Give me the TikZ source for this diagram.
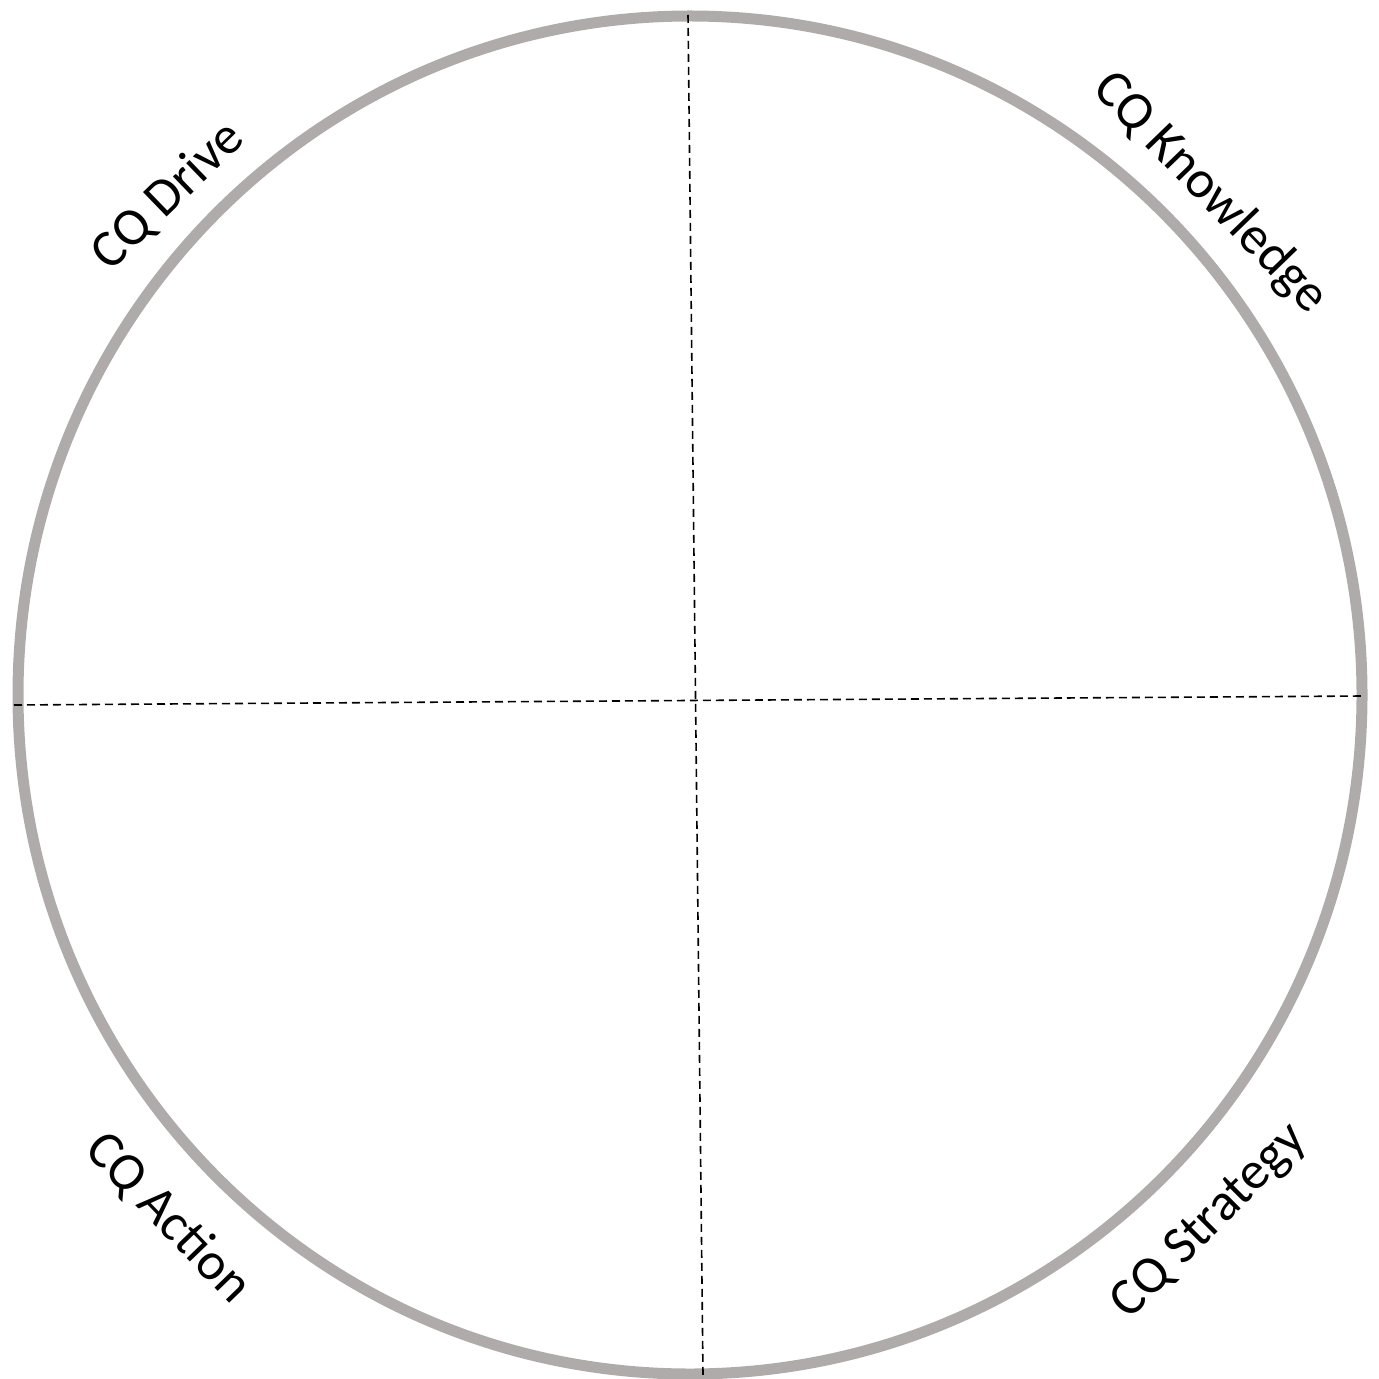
\documentclass[tikz,border=0pt]{standalone}
\usepackage{fontspec}
\setmainfont{Carlito}
\definecolor{ringgray}{RGB}{175,171,171}
\tikzset{
  ring/.style={draw=ringgray, line width=5.5pt},
  axis/.style={draw=black, line width=0.8pt, dash pattern=on 4pt off 2.5pt},
  lbl/.style={font=\fontsize{26.5}{30}\selectfont, inner sep=0pt}
}
\begin{document}
\begin{tikzpicture}[x=0.5pt,y=-0.5pt]
\useasboundingbox (0,0) rectangle (1378,1379);
\draw[ring] (690,695) ellipse [x radius=672, y radius=679];
\coordinate (top) at (688,15);
\coordinate (bot) at (703,1375);
\coordinate (lft) at (14,705);
\coordinate (rgt) at (1362,696);
\draw[axis] (top) -- (bot);
\draw[axis] (lft) -- (rgt);
\node[lbl, rotate=44] (drive) at (168,196) {CQ Drive};
\node[lbl, rotate=-46] (know) at (1210,193) {CQ Knowledge};
\node[lbl, rotate=-46] (action) at (168,1218) {CQ Action};
\node[lbl, rotate=45] (strat) at (1210,1222) {CQ Strategy};
\end{tikzpicture}
\end{document}
